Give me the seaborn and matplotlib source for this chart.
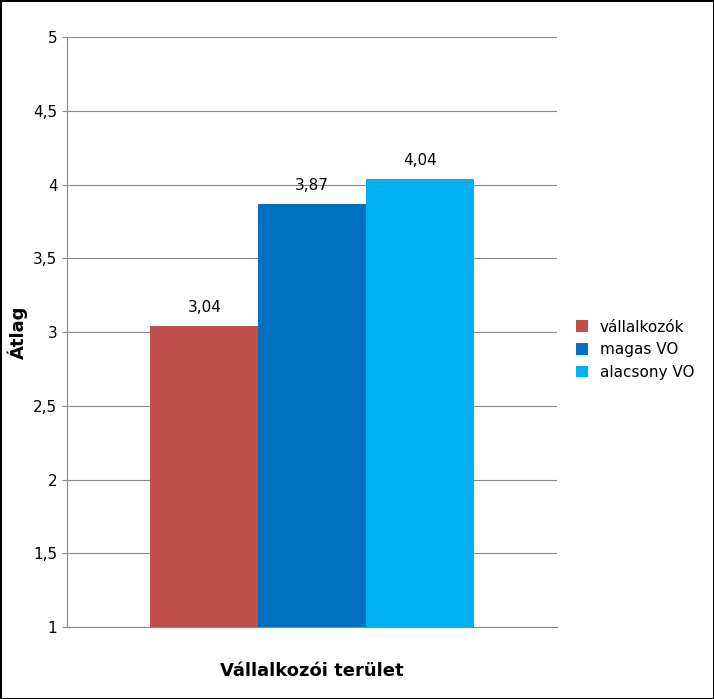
import matplotlib
matplotlib.use("Agg")
import matplotlib.pyplot as plt
import seaborn as sns
import pandas as pd
from matplotlib.ticker import FuncFormatter

categories = ["Vállalkozói terület"]
groups = ["vállalkozók", "magas VO", "alacsony VO"]
values = [3.04, 3.87, 4.04]
colors = ["#C0504D", "#0070C0", "#00B0F0"]

df = pd.DataFrame({"cat": categories * 3, "grp": groups, "val": values})

fig = plt.figure(figsize=(7.14, 6.99), dpi=100, facecolor="white",
                 edgecolor="black", linewidth=2)
ax = fig.add_axes([0.094, 0.103, 0.686, 0.844])
sns.barplot(data=df, x="cat", y="val", hue="grp", palette=colors, width=0.66,
            ax=ax, saturation=1, errorbar=None, zorder=2)
ax.set_ylim(1, 5)
ax.set_yticks([1, 1.5, 2, 2.5, 3, 3.5, 4, 4.5, 5])
ax.yaxis.set_major_formatter(FuncFormatter(lambda v, p: f"{v:g}".replace(".", ",")))
ax.grid(axis="y", color="#888888", linewidth=0.8, zorder=0)
ax.set_axisbelow(True)
for s in ["top", "right"]:
    ax.spines[s].set_visible(False)
ax.spines["left"].set_color("#888888")
ax.spines["bottom"].set_color("#888888")
ax.set_xticks([])
ax.tick_params(axis="y", labelsize=11, color="#888888")
ax.set_ylabel("Átlag", fontsize=13, fontweight="bold")
ax.set_xlabel("Vállalkozói terület", fontsize=13, fontweight="bold", labelpad=25)
for c in ax.containers:
    ax.bar_label(c, labels=[f"{v:.2f}".replace(".", ",") for v in c.datavalues],
                 padding=8, fontsize=11)
ax.legend(loc="center left", bbox_to_anchor=(1.01, 0.47), frameon=False,
          fontsize=11, handlelength=0.8, handleheight=0.8)
fig.savefig("out.png", dpi=100, edgecolor="black")
